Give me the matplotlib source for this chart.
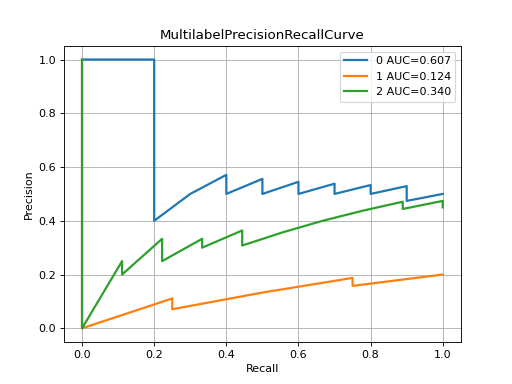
import matplotlib
matplotlib.use("Agg")
import matplotlib.pyplot as plt

labels = ["0 AUC=0.607", "1 AUC=0.124", "2 AUC=0.340"]

recall0 = [0, 0.1, 0.2, 0.2, 0.3, 0.4, 0.4, 0.5, 0.5, 0.6, 0.6, 0.7, 0.7, 0.8, 0.8, 0.9, 0.9, 1.0]
precision0 = [1, 1, 1, 0.4, 0.5, 0.571, 0.5, 0.556, 0.5, 0.545, 0.5, 0.538, 0.5, 0.533, 0.5, 0.529, 0.474, 0.5]

recall1 = [0, 0, 0.25, 0.25, 0.5, 0.75, 0.75, 1.0]
precision1 = [1, 0, 0.111, 0.071, 0.133, 0.1875, 0.158, 0.2]

recall2 = [0, 0, 0.111, 0.111, 0.222, 0.222, 0.333, 0.333, 0.444, 0.444, 0.556, 0.667, 0.778, 0.889, 0.889, 1.0, 1.0]
precision2 = [1, 0, 0.25, 0.2, 0.333, 0.25, 0.333, 0.3, 0.364, 0.308, 0.357, 0.4, 0.4375, 0.471, 0.444, 0.474, 0.45]

fig, ax = plt.subplots(figsize=(6.4, 4.8), dpi=80)
for r, p, lab in zip([recall0, recall1, recall2], [precision0, precision1, precision2], labels):
    ax.plot(r, p, linewidth=2, label=lab)
ax.set_title("MultilabelPrecisionRecallCurve")
ax.set_xlabel("Recall")
ax.set_ylabel("Precision")
ax.grid(True)
ax.legend(loc="upper right")
fig.savefig("out.png", dpi=80)
